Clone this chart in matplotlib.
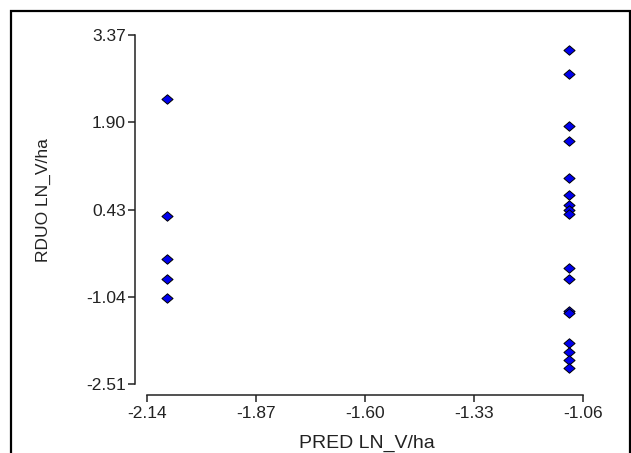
import matplotlib
matplotlib.use("Agg")
import matplotlib.pyplot as plt
from matplotlib.patches import Rectangle
from matplotlib.path import Path

plt.rcParams["font.family"] = ["Liberation Sans", "DejaVu Sans"]

# data
pred_left = [-2.09] * 5
rduo_left = [2.29, 0.32, -0.40, -0.73, -1.06]
rduo_right = [3.11, 2.72, 1.83, 1.59, 0.97, 0.68, 0.51, 0.42, 0.35,
              -0.55, -0.73, -1.27, -1.31, -1.82, -1.96, -2.10, -2.24]
pred_right = [-1.094] * len(rduo_right)

xticks = [-2.14, -1.87, -1.60, -1.33, -1.06]
yticks = [-2.51, -1.04, 0.43, 1.90, 3.37]

W, H = 631, 453
fig = plt.figure(figsize=(W / 100, H / 100), dpi=100)
ax = fig.add_axes([146.7 / W, 1 - 384.3 / H, (582.7 - 146.7) / W, (384.3 - 35) / H])

# slightly flattened diamond
diamond = Path([(-1, 0), (0, 0.85), (1, 0), (0, -0.85), (-1, 0)],
               [Path.MOVETO, Path.LINETO, Path.LINETO, Path.LINETO, Path.CLOSEPOLY])

xs = pred_left + pred_right
ys = rduo_left + rduo_right
ax.plot(xs, ys, linestyle="none", marker=diamond, markersize=8,
        markerfacecolor="#0000ee", markeredgecolor="black", markeredgewidth=0.7,
        clip_on=False)

ax.set_xlim(-2.14, -1.06)
ax.set_ylim(-2.51, 3.37)
ax.set_xticks(xticks)
ax.set_xticklabels([f"{v:.2f}" for v in xticks])
ax.set_yticks(yticks)
ax.set_yticklabels([f"{v:.2f}" for v in yticks])

for s in ("top", "right"):
    ax.spines[s].set_visible(False)
ax.spines["left"].set_position(("outward", 8.4))
ax.spines["bottom"].set_position(("outward", 7.7))
for s in ("left", "bottom"):
    ax.spines[s].set_linewidth(1.1)
    ax.spines[s].set_color("#222222")
ax.tick_params(direction="out", length=5, width=1.1, labelsize=12.5,
               colors="#222222")
ax.tick_params(axis="y", pad=1.5)
ax.tick_params(axis="x", pad=3)

ax.set_xlabel("PRED LN_V/ha", fontsize=14, color="#222222")
ax.set_ylabel("RDUO LN_V/ha", fontsize=12.5, color="#222222")
axw, axh = 582.7 - 146.7, 384.3 - 35
ax.xaxis.set_label_coords((367 - 146.7) / axw, (384.3 - 448) / axh)
ax.xaxis.label.set_va("baseline")
ax.yaxis.set_label_coords((43 - 146.7) / axw, (384.3 - 200) / axh)
ax.yaxis.label.set_va("center")

# outer frame
fig.patches.append(Rectangle((11 / W, -0.05), (W - 11 - 1) / W, 1 - 11 / H + 0.05,
                             transform=fig.transFigure, fill=False,
                             edgecolor="black", linewidth=1.6))

fig.savefig("out.png", dpi=100)
